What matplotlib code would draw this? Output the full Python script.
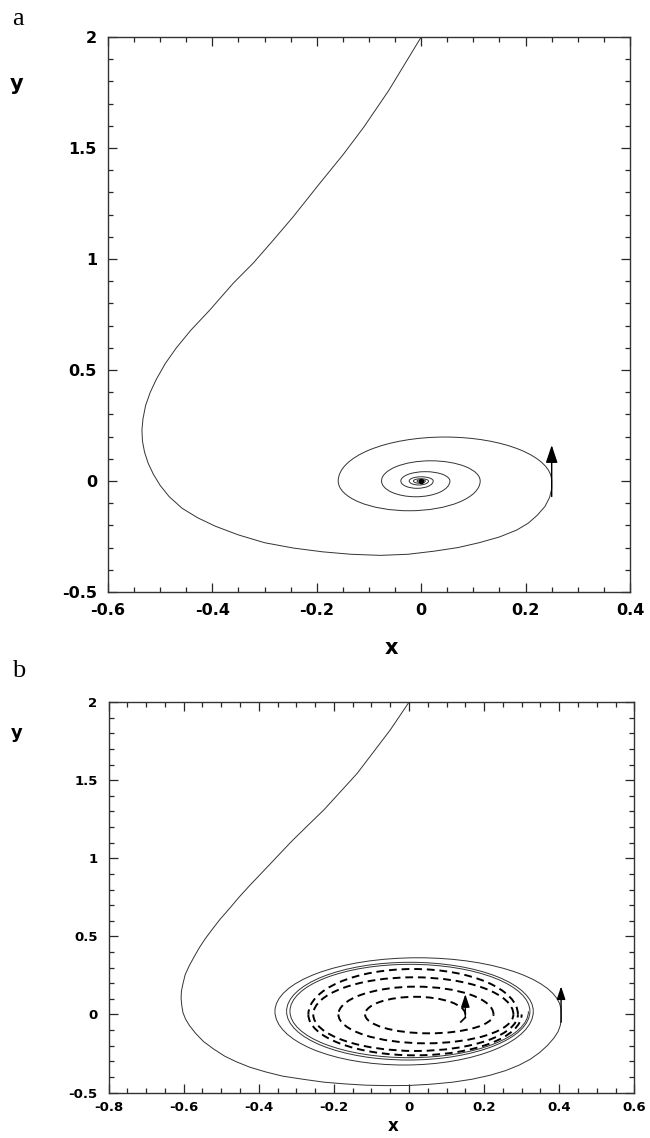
import matplotlib
matplotlib.use("Agg")
import matplotlib.pyplot as plt
from matplotlib.patches import Arc
from matplotlib.ticker import MultipleLocator

# ---- panel a: approach to the stable focus ----
# path from the start point down to the first pass at x = 0.25
traj_a_x = [0.0, -0.0625, -0.110, -0.149, -0.197, -0.245, -0.283, -0.322, -0.360,
            -0.405, -0.441, -0.469, -0.490, -0.507, -0.519, -0.528, -0.533, -0.535,
            -0.534, -0.530, -0.523, -0.513, -0.500, -0.483, -0.458, -0.428, -0.394, -0.350,
            -0.300, -0.245, -0.189, -0.135, -0.078, -0.025, 0.025, 0.070, 0.111,
            0.150, 0.183, 0.205, 0.222, 0.237, 0.246, 0.250, 0.250]
traj_a_y = [2.0, 1.758, 1.594, 1.472, 1.333, 1.191, 1.086, 0.981, 0.891,
            0.770, 0.680, 0.600, 0.530, 0.460, 0.400, 0.340, 0.280, 0.230,
            0.180, 0.130, 0.080, 0.030, -0.020, -0.070, -0.123, -0.166, -0.204, -0.243,
            -0.278, -0.302, -0.319, -0.330, -0.335, -0.330, -0.316, -0.300, -0.278,
            -0.252, -0.221, -0.190, -0.155, -0.115, -0.074, -0.035, 0.0]
# inward spiral: alternating right/left extremes and top/bottom extremes
spiral_a_ext_x = [0.25, -0.159, 0.113, -0.076, 0.055, -0.039, 0.023, -0.023, 0.014,
                  -0.015, 0.008, -0.008, 0.004, -0.004, 0.002]
spiral_a_ext_y = [0.198, -0.134, 0.091, -0.071, 0.042, -0.033, 0.019, -0.018, 0.010,
                  -0.010, 0.006, -0.006, 0.003, -0.003]
spiral_a_yc = 0.0
arrow_a = [(0.25, -0.07), (0.25, 0.162)]

# ---- panel b: approach to the limit cycle from outside and inside ----
traj_b_x = [0.0, -0.050, -0.094, -0.138, -0.182, -0.226, -0.271, -0.315, -0.370,
            -0.425, -0.453, -0.480, -0.503, -0.524, -0.542, -0.558, -0.572, -0.585,
            -0.596, -0.602, -0.606, -0.607, -0.605, -0.602, -0.595, -0.585, -0.568,
            -0.547, -0.520, -0.491, -0.460, -0.425, -0.382, -0.337, -0.280, -0.226,
            -0.170, -0.116, -0.058, 0.0, 0.058, 0.116, 0.168, 0.215, 0.257, 0.293,
            0.323, 0.348, 0.369, 0.386, 0.397, 0.403, 0.405, 0.405]
traj_b_y = [2.0, 1.822, 1.683, 1.544, 1.428, 1.312, 1.207, 1.103, 0.963,
            0.824, 0.750, 0.673, 0.610, 0.545, 0.487, 0.429, 0.370, 0.313,
            0.255, 0.197, 0.150, 0.104, 0.055, 0.012, -0.030, -0.070, -0.122,
            -0.174, -0.222, -0.267, -0.303, -0.337, -0.368, -0.395, -0.416, -0.434,
            -0.445, -0.453, -0.456, -0.455, -0.447, -0.434, -0.415, -0.390, -0.360, -0.325,
            -0.287, -0.244, -0.198, -0.151, -0.110, -0.070, -0.035, 0.02]
outer_b_ext_x = [0.405, -0.357, 0.331, -0.326, 0.322, -0.317, 0.318]
outer_b_ext_y = [0.363, -0.324, 0.334, -0.292, 0.321, -0.277]
outer_b_yc = 0.02
inner_b_ext_x = [0.15, -0.117, 0.225, -0.188, 0.278, -0.255, 0.290, -0.268, 0.300]
inner_b_ext_y = [0.113, -0.121, 0.178, -0.185, 0.238, -0.234, 0.291, -0.262]
inner_b_yc = 0.0
inner_b_tail_x = [0.138, 0.15]
inner_b_tail_y = [-0.048, -0.02]
arrow_b_outer = [(0.405, -0.05), (0.405, 0.18)]
arrow_b_inner = [(0.15, -0.02), (0.15, 0.13)]

W, H = 650, 1138
fig = plt.figure(figsize=(W / 100, H / 100), dpi=100)
LINE = "0.2"


def spiral(ax, ext_x, ext_y, yc, **kw):
    # each half turn is half an ellipse between two successive x extremes
    for i, ey in enumerate(ext_y):
        x0, x1 = ext_x[i], ext_x[i + 1]
        cx = (x0 + x1) / 2
        w = abs(x0 - x1)
        h = 2 * abs(ey - yc)
        if ey > yc:
            ax.add_patch(Arc((cx, yc), w, h, theta1=0, theta2=180, **kw))
        else:
            ax.add_patch(Arc((cx, yc), w, h, theta1=180, theta2=360, **kw))


def style(ax, xlim, ylim, size, pad_x, pad_y):
    ax.set_xlim(*xlim)
    ax.set_ylim(*ylim)
    ax.xaxis.set_major_locator(MultipleLocator(0.2))
    ax.xaxis.set_minor_locator(MultipleLocator(0.05))
    ax.yaxis.set_major_locator(MultipleLocator(0.5))
    ax.yaxis.set_minor_locator(MultipleLocator(0.1))
    ax.xaxis.set_major_formatter(plt.FuncFormatter(lambda v, p: f"{v:g}"))
    ax.yaxis.set_major_formatter(plt.FuncFormatter(lambda v, p: f"{v:g}"))
    ax.tick_params(which="both", direction="in", top=True, right=True, width=0.9, color="0.15")
    ax.tick_params(which="major", length=6.5)
    ax.tick_params(which="minor", length=3.8)
    ax.tick_params(axis="x", pad=pad_x)
    ax.tick_params(axis="y", pad=pad_y)
    for lab in ax.get_xticklabels() + ax.get_yticklabels():
        lab.set_fontweight("bold")
        lab.set_fontsize(size)
        lab.set_family("DejaVu Sans")
    for sp in ax.spines.values():
        sp.set_linewidth(1.0)
        sp.set_color("0.2")


def arrow(ax, p0, p1, scale):
    ax.annotate("", xy=p1, xytext=p0,
                arrowprops=dict(arrowstyle="-|>,head_length=0.6,head_width=0.2",
                                mutation_scale=scale, lw=1.0, color="k",
                                shrinkA=0, shrinkB=0))


# panel a
ax1 = fig.add_axes([108 / W, 1 - 592 / H, (630 - 108) / W, (592 - 37) / H])
ax1.plot(traj_a_x, traj_a_y, color=LINE, lw=0.7)
spiral(ax1, spiral_a_ext_x, spiral_a_ext_y, spiral_a_yc, color=LINE, lw=0.7)
ax1.plot([0.0], [0.0], "o", color="k", ms=3)
arrow(ax1, *arrow_a, 18)
style(ax1, (-0.6, 0.4), (-0.5, 2.0), 11.5, 8, 8)

# panel b
ax2 = fig.add_axes([108.6 / W, 1 - 1092.5 / H, (634.3 - 108.6) / W, (1092.5 - 702.2) / H])
ax2.plot(traj_b_x, traj_b_y, color=LINE, lw=0.7)
spiral(ax2, outer_b_ext_x, outer_b_ext_y, outer_b_yc, color=LINE, lw=0.7)
spiral(ax2, inner_b_ext_x, inner_b_ext_y, inner_b_yc, color="k", lw=1.4,
       linestyle=(0, (4, 2.5)))
ax2.plot(inner_b_tail_x, inner_b_tail_y, color="k", lw=1.2)
arrow(ax2, *arrow_b_outer, 13)
arrow(ax2, *arrow_b_inner, 13)
style(ax2, (-0.8, 0.6), (-0.5, 2.0), 9.5, 6, 8)

# panel letters and axis names
fig.text(12 / W, 1 - 25 / H, "a", family="Liberation Serif", size=19, va="baseline")
fig.text(12 / W, 1 - 677 / H, "b", family="Liberation Serif", size=19, va="baseline")
fig.text(17 / W, 1 - 84 / H, "y", ha="center", va="center", weight="bold", size=15)
fig.text(391 / W, 1 - 648 / H, "x", ha="center", va="center", weight="bold", size=15)
fig.text(17 / W, 1 - 733 / H, "y", ha="center", va="center", weight="bold", size=13)
fig.text(393 / W, 1 - 1131 / H, "x", ha="center", va="baseline", weight="bold", size=12)

fig.savefig("out.png", dpi=100)
